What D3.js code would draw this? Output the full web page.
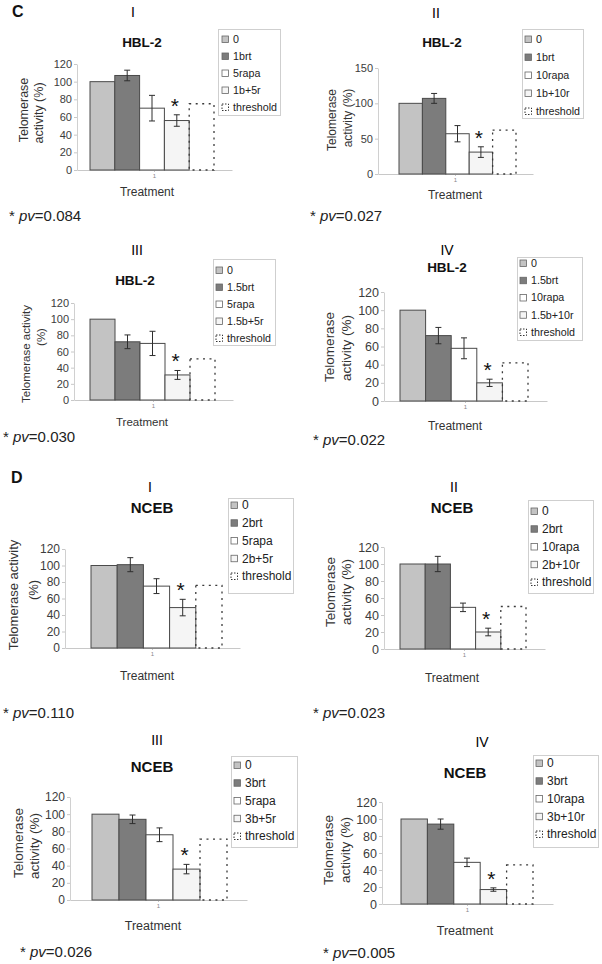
<!DOCTYPE html>
<html><head><meta charset="utf-8">
<script src="https://cdn.jsdelivr.net/npm/d3@7"></script>
<style>body{margin:0;background:#fff}svg{display:block}</style>
</head><body><script>
// ---------------- DATA ----------------
const sectionLabels = ["C", "D"];
const cellLines = ["HBL-2", "HBL-2", "HBL-2", "HBL-2", "NCEB", "NCEB", "NCEB", "NCEB"];
const romans = ["I", "II", "III", "IV", "I", "II", "III", "IV"];
const treatments = [
  ["0", "1brt", "5rapa", "1b+5r", "threshold"],
  ["0", "1brt", "10rapa", "1b+10r", "threshold"],
  ["0", "1.5brt", "5rapa", "1.5b+5r", "threshold"],
  ["0", "1.5brt", "10rapa", "1.5b+10r", "threshold"],
  ["0", "2brt", "5rapa", "2b+5r", "threshold"],
  ["0", "2brt", "10rapa", "2b+10r", "threshold"],
  ["0", "3brt", "5rapa", "3b+5r", "threshold"],
  ["0", "3brt", "10rapa", "3b+10r", "threshold"]
];
const activity = [
  [100, 107, 70, 56, 75],
  [100, 107, 57, 31, 62],
  [100, 72, 70, 31, 51],
  [100, 72, 58, 20, 42],
  [100, 101, 75, 49, 76],
  [100, 100, 49, 20, 50],
  [100, 94, 76, 36, 71],
  [100, 94, 49, 17, 46]
];
const errorBars = [
  [0, 6, 14.5, 6.5, 0],
  [0, 7, 11.5, 7.5, 0],
  [0, 8.5, 15, 5.5, 0],
  [0, 9, 11.5, 4, 0],
  [0, 8.5, 9, 10, 0],
  [0, 9, 5, 4.5, 0],
  [0, 5, 8, 5.5, 0],
  [0, 6, 5, 2, 0]
];
const yMaxes = [120, 150, 120, 120, 120, 120, 120, 120];
const yTicks = [
  [0, 20, 40, 60, 80, 100, 120],
  [0, 50, 100, 150],
  [0, 20, 40, 60, 80, 100, 120],
  [0, 20, 40, 60, 80, 100, 120],
  [0, 20, 40, 60, 80, 100, 120],
  [0, 20, 40, 60, 80, 100, 120],
  [0, 20, 40, 60, 80, 100, 120],
  [0, 20, 40, 60, 80, 100, 120]
];
const yLabelLines = [
  ["Telomerase", "activity (%)"],
  ["Telomerase", "activity (%)"],
  ["Telomerase activity", "(%)"],
  ["Telomerase", "activity (%)"],
  ["Telomerase activity", "(%)"],
  ["Telomerase", "activity (%)"],
  ["Telomerase", "activity (%)"],
  ["Telomerase", "activity (%)"]
];
const categoryTicks = ["1"];
const xLabel = "Treatment";
const pValues = ["0.084", "0.027", "0.030", "0.022", "0.110", "0.023", "0.026", "0.005"];

// ---------------- LAYOUT / STYLE ----------------
const sectionPos = [[12, 17], [11, 483]];
const barFills = ["#c3c3c3", "#7c7c7c", "#ffffff", "#f5f5f5"];
const layout = [
  {axisX:77, plotR:232, barL:90, barR:214, y0:170, yTop:64, title:[142,47], roman:[133,17],
   leg:[218,29,62,86], row0:39, step:17, swX:222, txX:233, yl:[[24,110],[39,113]], tr:[147,196], pv:[9,221],
   tickFS:11, ylFS:12.5, trFS:12, legFS:10.7, titleFS:13.5},
  {axisX:378, plotR:533, barL:399, barR:516, y0:174, yTop:68, title:[442,47], roman:[436,18],
   leg:[522,29,61,89], row0:39, step:18, swX:525, txX:536, yl:[[332,120],[348,118]], tr:[455,199], pv:[310,221],
   tickFS:11, ylFS:12, trFS:12, legFS:10.7, titleFS:13.5},
  {axisX:74, plotR:233, barL:90, barR:215, y0:400, yTop:303, title:[135,285], roman:[137,255],
   leg:[213,259,62,86], row0:270, step:17, swX:216, txX:227, yl:[[26,354],[41,337]], tr:[142,426], pv:[3,442],
   tickFS:11, ylFS:11.5, trFS:11.5, legFS:10.7, titleFS:13.5},
  {axisX:384, plotR:547, barL:400, barR:528, y0:401, yTop:292, title:[447,272], roman:[447,255],
   leg:[517,257,65,83], row0:263, step:17.25, swX:520, txX:531, yl:[[329,347],[346,348]], tr:[455,430], pv:[313,445],
   tickFS:12.5, ylFS:13.5, trFS:12, legFS:10.7, titleFS:13.5},
  {axisX:65, plotR:240, barL:91, barR:222, y0:648, yTop:549, title:[152,513], roman:[150,492],
   leg:[228,498,65,95], row0:505, step:17.75, swX:231, txX:242, yl:[[13,595],[33,590]], tr:[147,680], pv:[3,718],
   tickFS:12, ylFS:13, trFS:12, legFS:12, titleFS:15},
  {axisX:384, plotR:545, barL:400, barR:526, y0:649, yTop:547, title:[452,513], roman:[454,492],
   leg:[528,500,65,93], row0:511, step:17.75, swX:531, txX:542, yl:[[330,592],[346,592]], tr:[452,682], pv:[313,718],
   tickFS:12.5, ylFS:13.5, trFS:12, legFS:12, titleFS:15},
  {axisX:70, plotR:247, barL:92, barR:227, y0:900, yTop:797, title:[152,772], roman:[157,745],
   leg:[231,756,66,91], row0:765, step:17.75, swX:234, txX:245, yl:[[18,843],[34,846]], tr:[153,930], pv:[20,957],
   tickFS:12, ylFS:13.5, trFS:12.5, legFS:12, titleFS:15},
  {axisX:382, plotR:553, barL:401, barR:533, y0:904, yTop:802, title:[465,778], roman:[482,747],
   leg:[533,755,65,92], row0:763, step:17.75, swX:536, txX:547, yl:[[328,850],[345,850]], tr:[465,935], pv:[323,958],
   tickFS:12.5, ylFS:13.5, trFS:12.5, legFS:12, titleFS:15}
];
const FONT = "'Liberation Sans', Arial, Helvetica, sans-serif";

// ---------------- DRAW ----------------
const svg = d3.select("body").append("svg")
  .attr("width", 602).attr("height", 964)
  .style("font-family", FONT);

svg.selectAll("text.section").data(sectionLabels).join("text")
  .attr("class", "section")
  .attr("x", (d, i) => sectionPos[i][0]).attr("y", (d, i) => sectionPos[i][1])
  .attr("font-size", 16).attr("font-weight", "bold").attr("fill", "#111").text(d => d);

layout.forEach((L, i) => {
  const g = svg.append("g");
  const names = treatments[i];
  const vals = activity[i];
  const errs = errorBars[i];
  const y = d3.scaleLinear().domain([0, yMaxes[i]]).range([L.y0, L.yTop]);
  const xb = d3.scaleBand().domain(names).range([L.barL, L.barR]).padding(0);
  const xc = d3.scaleBand().domain(categoryTicks).range([L.axisX, L.plotR]);

  // y axis
  const ya = g.append("g").attr("transform", `translate(${L.axisX},0)`)
    .call(d3.axisLeft(y).tickValues(yTicks[i]).tickSize(3).tickPadding(2).tickSizeOuter(0));
  ya.attr("font-family", FONT).attr("font-size", L.tickFS);
  ya.select(".domain").attr("stroke", "#d0d0d0");
  ya.selectAll(".tick line").attr("stroke", "#c8c8c8");
  ya.selectAll(".tick text").attr("fill", "#3c3c3c");

  // x axis
  const xa = g.append("g").attr("transform", `translate(0,${L.y0})`)
    .call(d3.axisBottom(xc).tickSize(2).tickPadding(2).tickSizeOuter(0));
  xa.attr("font-family", FONT).attr("font-size", 6);
  xa.select(".domain").attr("stroke", "#c8c8c8");
  xa.selectAll(".tick line").attr("stroke", "#c8c8c8");
  xa.selectAll(".tick text").attr("fill", "#888");

  // bars
  const solid = names.slice(0, 4).map((n, k) => ({n, v: vals[k], e: errs[k], k}));
  g.selectAll("rect.bar").data(solid).join("rect").attr("class", "bar")
    .attr("x", d => xb(d.n)).attr("y", d => y(d.v))
    .attr("width", xb.bandwidth()).attr("height", d => y(0) - y(d.v))
    .attr("fill", d => barFills[d.k]).attr("stroke", "#4a4a4a").attr("stroke-width", 1);

  // threshold (dotted)
  g.append("rect")
    .attr("x", xb(names[4])).attr("y", y(vals[4]))
    .attr("width", xb.bandwidth()).attr("height", y(0) - y(vals[4]))
    .attr("fill", "none").attr("stroke", "#3a3a3a").attr("stroke-width", 1.3)
    .attr("stroke-dasharray", "2,4.5");

  // error bars
  const eb = solid.filter(d => d.e > 0);
  const cx = d => xb(d.n) + xb.bandwidth() / 2;
  const ebg = g.selectAll("g.eb").data(eb).join("g").attr("class", "eb")
    .attr("stroke", "#2e2e2e").attr("stroke-width", 1);
  ebg.append("line").attr("x1", cx).attr("x2", cx).attr("y1", d => y(d.v + d.e)).attr("y2", d => y(d.v - d.e));
  ebg.append("line").attr("x1", d => cx(d) - 3).attr("x2", d => cx(d) + 3).attr("y1", d => y(d.v + d.e)).attr("y2", d => y(d.v + d.e));
  ebg.append("line").attr("x1", d => cx(d) - 3).attr("x2", d => cx(d) + 3).attr("y1", d => y(d.v - d.e)).attr("y2", d => y(d.v - d.e));

  // significance asterisk over combination bar
  const s = solid[3];
  g.append("text").attr("x", cx(s) - 2).attr("y", y(s.v + s.e) - 2)
    .attr("text-anchor", "middle").attr("font-size", 21).attr("fill", "#111").text("*");

  // title & roman numeral
  g.append("text").attr("x", L.roman[0]).attr("y", L.roman[1]).attr("text-anchor", "middle")
    .attr("font-size", 14).attr("fill", "#000").text(romans[i]);
  g.append("text").attr("x", L.title[0]).attr("y", L.title[1]).attr("text-anchor", "middle")
    .attr("font-size", L.titleFS).attr("font-weight", "bold").attr("fill", "#111").text(cellLines[i]);

  // y label
  g.selectAll("text.yl").data(yLabelLines[i]).join("text").attr("class", "yl")
    .attr("transform", (d, j) => `translate(${L.yl[j][0]},${L.yl[j][1]}) rotate(-90)`)
    .attr("dy", "0.35em").attr("text-anchor", "middle")
    .attr("font-size", L.ylFS).attr("fill", "#333").text(d => d);

  // x label
  g.append("text").attr("x", L.tr[0]).attr("y", L.tr[1]).attr("text-anchor", "middle")
    .attr("font-size", L.trFS).attr("fill", "#333").text(xLabel);

  // legend
  const [lx, ly, lw, lh] = L.leg;
  g.append("rect").attr("x", lx + 0.5).attr("y", ly + 0.5).attr("width", lw).attr("height", lh)
    .attr("fill", "#fff").attr("stroke", "#cfcfcf");
  const rows = g.selectAll("g.lrow").data(names).join("g").attr("class", "lrow")
    .attr("transform", (d, k) => `translate(0,${L.row0 + k * L.step})`);
  rows.append("rect").attr("x", L.swX).attr("y", -3).attr("width", 6.5).attr("height", 6.5)
    .attr("fill", (d, k) => k < 4 ? barFills[k] : "none")
    .attr("stroke", (d, k) => k < 4 ? "#666" : "#333")
    .attr("stroke-width", (d, k) => k < 4 ? 0.8 : 1)
    .attr("stroke-dasharray", (d, k) => k < 4 ? null : "1.5,1.5");
  rows.append("text").attr("x", L.txX).attr("dy", "0.36em")
    .attr("font-size", L.legFS).attr("fill", "#222").text(d => d);

  // p-value note
  const pv = g.append("text").attr("x", L.pv[0]).attr("y", L.pv[1])
    .attr("font-size", 15).attr("fill", "#222");
  pv.append("tspan").text("* ");
  pv.append("tspan").attr("font-style", "italic").text("pv");
  pv.append("tspan").text("=" + pValues[i]);
});
</script></body></html>
